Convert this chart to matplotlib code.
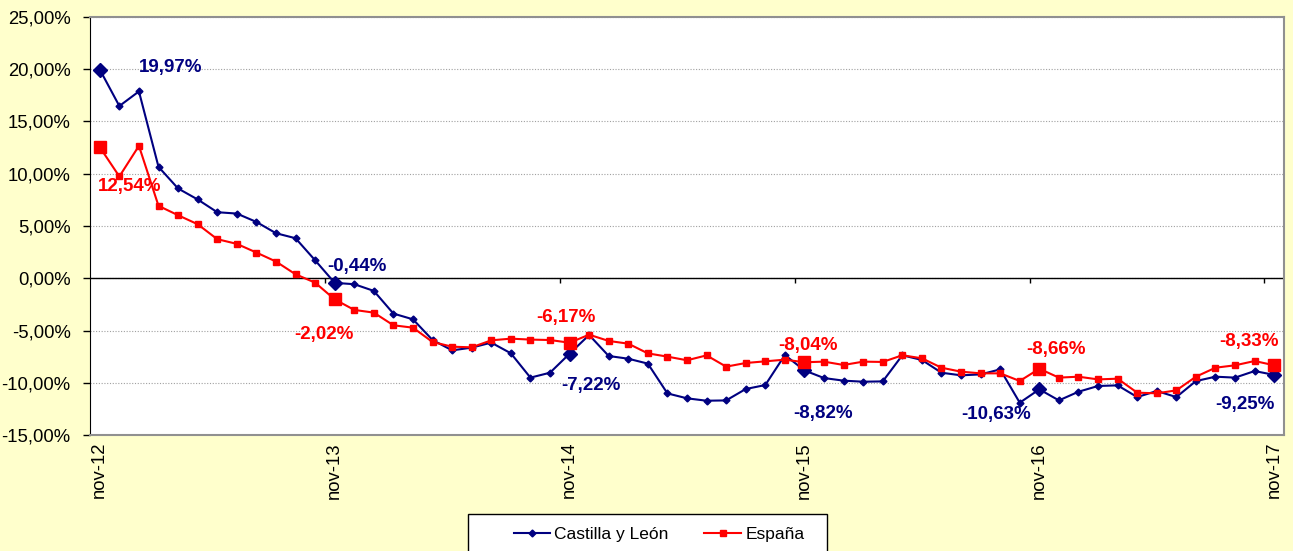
import matplotlib
matplotlib.use("Agg")
import matplotlib.pyplot as plt
from matplotlib.lines import Line2D
from matplotlib.patches import Rectangle
from matplotlib.ticker import FuncFormatter, MultipleLocator
import numpy as np

plt.rcParams["font.family"] = ["Liberation Sans", "DejaVu Sans"]

# monthly series, nov-12 .. nov-17 (61 points)
castilla = [
    19.97, 16.48, 17.88, 10.66, 8.59, 7.54, 6.32, 6.19, 5.39, 4.31, 3.83, 1.72,
    -0.44, -0.57, -1.21, -3.38, -3.93, -5.91, -6.90, -6.64, -6.16, -7.18, -9.51, -9.04,
    -7.22, -5.43, -7.44, -7.70, -8.17, -11.02, -11.49, -11.72, -11.69, -10.60, -10.22, -7.35,
    -8.82, -9.55, -9.80, -9.90, -9.87, -7.37, -7.82, -9.04, -9.29, -9.20, -8.72, -11.91,
    -10.63, -11.69, -10.86, -10.31, -10.25, -11.37, -10.79, -11.37, -9.84, -9.42, -9.51, -8.88,
    -9.25,
]
espana = [
    12.54, 9.74, 12.67, 6.93, 6.03, 5.17, 3.74, 3.29, 2.46, 1.60, 0.38, -0.42,
    -2.02, -3.03, -3.29, -4.50, -4.73, -6.10, -6.55, -6.61, -5.94, -5.78, -5.87, -5.91,
    -6.17, -5.40, -6.00, -6.26, -7.19, -7.50, -7.85, -7.38, -8.46, -8.11, -7.95, -7.79,
    -8.04, -7.98, -8.30, -7.98, -8.01, -7.37, -7.66, -8.56, -8.94, -9.10, -9.10, -9.83,
    -8.66, -9.51, -9.42, -9.68, -9.61, -10.95, -11.01, -10.73, -9.42, -8.56, -8.33, -7.92,
    -8.33,
]
tick_labels = ["nov-12", "nov-13", "nov-14", "nov-15", "nov-16", "nov-17"]

# label offsets (pixels) for the yearly highlighted points
cyl_offsets = [(71, -2), (22, -16), (21, 32), (19, 43), (-43, 25), (-29, 30)]
esp_offsets = [(30, 39), (-11, 35), (-4, -25), (4, -17), (17, -19), (-25, -24)]

NAVY = "#000080"
RED = "#FF0000"
BG = "#FFFFCC"
W, H = 1293, 551


def fmt_pct(v, decimals=2):
    return f"{v:.{decimals}f}".replace(".", ",") + "%"


fig = plt.figure(figsize=(W / 100, H / 100), dpi=100, facecolor=BG)
ax = fig.add_axes([90 / W, 1 - 435 / H, (1284 - 90) / W, (435 - 17) / H])
ax.set_facecolor("white")

x = np.arange(len(castilla))
yearly = x[::12]

ax.plot(x, castilla, color=NAVY, lw=1.5, marker="D", ms=3.5, zorder=3)
ax.plot(x, espana, color=RED, lw=1.5, marker="s", ms=4.5, zorder=3)
ax.plot(yearly, np.array(castilla)[yearly], ls="none", marker="D", ms=7, color=NAVY, zorder=4)
ax.plot(yearly, np.array(espana)[yearly], ls="none", marker="s", ms=9, color=RED, zorder=4)

for i, (dx, dy) in zip(yearly, cyl_offsets):
    ax.annotate(fmt_pct(castilla[i]), (i, castilla[i]), xytext=(dx * 0.72, -dy * 0.72),
                textcoords="offset points", ha="center", va="center",
                color=NAVY, fontsize=13.5, fontweight="bold", zorder=5)
for i, (dx, dy) in zip(yearly, esp_offsets):
    ax.annotate(fmt_pct(espana[i]), (i, espana[i]), xytext=(dx * 0.72, -dy * 0.72),
                textcoords="offset points", ha="center", va="center",
                color=RED, fontsize=13.5, fontweight="bold", zorder=5)

ax.set_ylim(-15, 25)
ax.set_xlim(-0.5, len(castilla) - 0.5)
ax.yaxis.set_major_locator(MultipleLocator(5))
ax.yaxis.set_major_formatter(FuncFormatter(lambda v, p: fmt_pct(v)))
ax.grid(axis="y", color="#A0A0A0", ls=(0, (1, 1.5)), lw=0.8)
ax.set_axisbelow(True)
ax.tick_params(axis="y", length=5, width=1, pad=9, labelsize=13.3, direction="out")

ax.set_xticks(yearly)
ax.set_xticklabels(tick_labels, rotation=90, fontsize=13.3)
ax.tick_params(axis="x", length=0, pad=5)

# category axis sits on the zero line
ax.axhline(0, color="black", lw=1, zorder=2)
ax.vlines(np.arange(11.5, len(castilla), 12), -0.45, 0, color="black", lw=1, zorder=2)

for side in ["top", "right", "bottom"]:
    ax.spines[side].set_color("#909090")
    ax.spines[side].set_linewidth(1.5)
ax.spines["left"].set_color("black")

# legend box
fig.patches.append(Rectangle((468 / W, 1 - 560 / H), (827 - 468) / W, 46 / H,
                             transform=fig.transFigure, facecolor="white",
                             edgecolor="black", lw=1))
handles = [
    Line2D([], [], color=NAVY, lw=1.5, marker="D", ms=3.5),
    Line2D([], [], color=RED, lw=1.5, marker="s", ms=4.5),
]
fig.legend(handles, ["Castilla y León", "España"], loc="center left",
           bbox_to_anchor=(505 / W, 1 - 534 / H), ncol=2, frameon=False,
           fontsize=12.5, borderpad=0, handlelength=2.1, handletextpad=0.25,
           columnspacing=2.05)

fig.savefig("out.png", dpi=100, facecolor=BG)
